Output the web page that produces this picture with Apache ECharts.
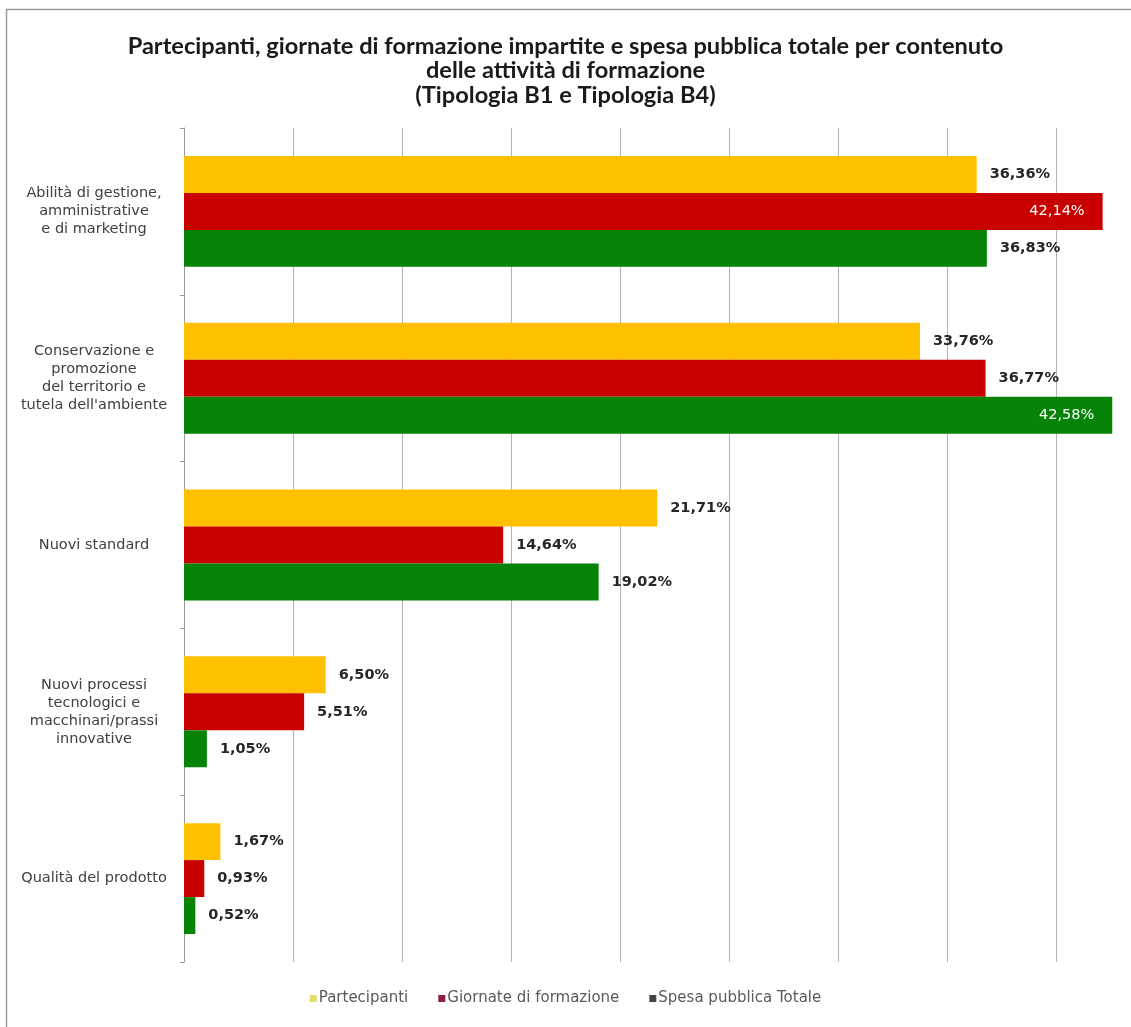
<!DOCTYPE html>
<html>
<head>
<meta charset="utf-8">
<script src="https://cdn.jsdelivr.net/npm/echarts@6/dist/echarts.min.js"></script>
<style>
html,body{margin:0;padding:0;background:#fff;}
#chart{width:1131px;height:1027px;}
</style>
</head>
<body>
<div id="chart"></div>
<script>
const titleText = "Partecipanti, giornate di formazione impartite e spesa pubblica totale per contenuto\ndelle attività di formazione\n(Tipologia B1 e Tipologia B4)";
const categories = [
  "Abilità di gestione,\namministrative\ne di marketing",
  "Conservazione e\npromozione\ndel territorio e\ntutela dell'ambiente",
  "Nuovi standard",
  "Nuovi processi\ntecnologici e\nmacchinari/prassi\ninnovative",
  "Qualità del prodotto"
];
const seriesNames = ["Partecipanti", "Giornate di formazione", "Spesa pubblica Totale"];
const partecipanti = [36.36, 33.76, 21.71, 6.50, 1.67];
const giornate = [42.14, 36.77, 14.64, 5.51, 0.93];
const spesa = [36.83, 42.58, 19.02, 1.05, 0.52];
const xTicks = [0, 5, 10, 15, 20, 25, 30, 35, 40, 45];

const barColors = ["#FFC000", "#C80000", "#078407"];
const legendColors = ["#E2DC6A", "#8E1F3E", "#444444"];

function fmt(v) { return v.toFixed(2).replace('.', ',') + '%'; }

function makeData(arr) {
  return arr.map(v => {
    if (v > 40) {
      return { value: v, label: { position: 'insideRight', color: '#ffffff', fontWeight: 'normal', distance: 18 } };
    }
    return { value: v };
  });
}

const allSeries = [partecipanti, giornate, spesa].map((arr, i) => ({
  name: seriesNames[i],
  type: 'bar',
  data: makeData(arr),
  barGap: '0%',
  barCategoryGap: '33.5%',
  itemStyle: { color: barColors[i] },
  label: {
    show: true,
    position: 'right',
    distance: 13,
    formatter: p => fmt(p.value),
    fontFamily: 'DejaVu Sans',
    fontSize: 14.5,
    fontWeight: 'bold',
    color: '#262626'
  }
}));

const chart = echarts.init(document.getElementById('chart'), null, { renderer: 'canvas' });
chart.setOption({
  animation: false,
  backgroundColor: '#ffffff',
  title: {
    text: titleText,
    left: 'center',
    top: 29,
    textStyle: {
      fontFamily: 'Lato',
      fontWeight: 'bold',
      fontSize: 23.6,
      lineHeight: 24.5,
      color: '#1a1a1a'
    }
  },
  graphic: [{
    type: 'rect',
    shape: { x: 6.5, y: 9.5, width: 1200, height: 1100 },
    style: { fill: null, stroke: '#9a9a9a', lineWidth: 1.5 },
    silent: true
  }],
  legend: {
    bottom: 16,
    left: 'center',
    itemWidth: 7,
    itemHeight: 7,
    itemGap: 30,
    icon: 'rect',
    textStyle: { fontFamily: 'DejaVu Sans', fontSize: 15, color: '#595959', padding: [0, 0, 0, -3] },
    data: seriesNames.map((n, i) => ({ name: n, itemStyle: { color: legendColors[i] } }))
  },
  grid: { left: 184, width: 981, top: 128, bottom: 65, containLabel: false, outerBoundsMode: 'none' },
  xAxis: {
    type: 'value',
    min: xTicks[0],
    max: xTicks[xTicks.length - 1],
    interval: xTicks[1] - xTicks[0],
    axisLine: { show: false },
    axisTick: { show: false },
    axisLabel: { show: false },
    splitLine: { show: true, lineStyle: { color: '#b4b4b4', width: 1 } }
  },
  yAxis: {
    type: 'category',
    data: categories,
    inverse: true,
    axisLine: { show: true, lineStyle: { color: '#9a9a9a', width: 1 } },
    axisTick: { show: true, length: 4, lineStyle: { color: '#9a9a9a' } },
    axisLabel: {
      margin: 90,
      align: 'center',
      fontFamily: 'DejaVu Sans',
      fontSize: 14.5,
      lineHeight: 18,
      color: '#404040'
    }
  },
  series: allSeries
});
</script>
</body>
</html>
